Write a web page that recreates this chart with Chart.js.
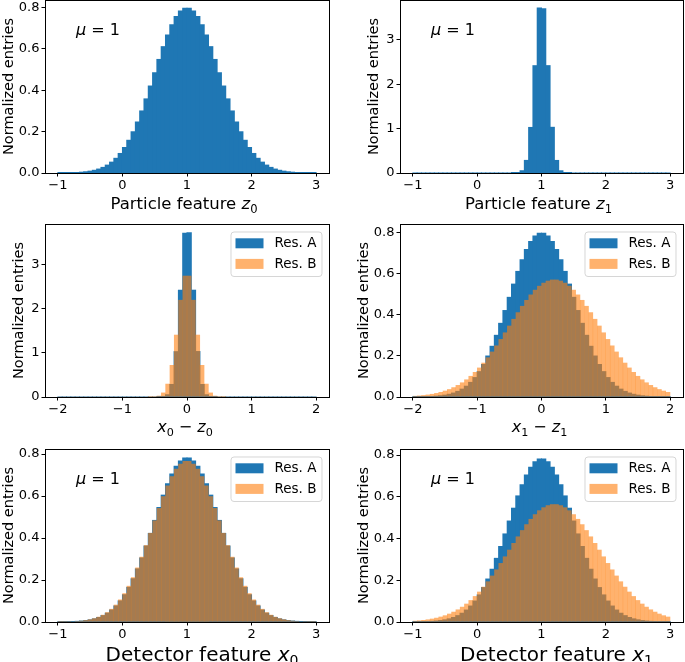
<!DOCTYPE html>
<html>
<head>
<meta charset="utf-8">
<script src="https://cdn.jsdelivr.net/npm/chart.js@4.4.1/dist/chart.umd.min.js"></script>
<style>
  html, body { margin: 0; padding: 0; background: #fff; }
  #fig { position: relative; width: 685px; height: 662px; overflow: hidden; }
  #fig canvas { position: absolute; }
</style>
</head>
<body>
<div id="fig">
  <canvas id="pz0" width="342" height="220" style="left:0px;top:0px"></canvas>
  <canvas id="pz1" width="343" height="220" style="left:342px;top:0px"></canvas>
  <canvas id="pdx0" width="342" height="225" style="left:0px;top:220px"></canvas>
  <canvas id="pdx1" width="343" height="225" style="left:342px;top:220px"></canvas>
  <canvas id="px0" width="342" height="217" style="left:0px;top:445px"></canvas>
  <canvas id="px1" width="343" height="217" style="left:342px;top:445px"></canvas>
</div>
<script>
// 60 bins of width 1/15 over each range
const nBins = 60;
const featureRange = [-1, 3];
const residualRange = [-2, 2];

const featureTicks = [-1, 0, 1, 2, 3];
const residualTicks = [-2, -1, 0, 1, 2];
const densityTicks = [0, 0.2, 0.4, 0.6, 0.8];
const peakTicks = [0, 1, 2, 3];

const seriesLabels = ['Res. A', 'Res. B'];

// Particle feature z0
const z0Entries = [
  0.0004, 0.0006, 0.001, 0.0016, 0.0025, 0.0039, 0.0059, 0.0089, 0.0131, 0.019,
  0.0271, 0.0381, 0.0524, 0.0709, 0.0943, 0.1231, 0.1579, 0.199, 0.2462, 0.2995,
  0.3577, 0.4198, 0.4839, 0.5481, 0.6098, 0.6665, 0.7156, 0.7548, 0.7821, 0.7955,
  0.7951, 0.7821, 0.7548, 0.7156, 0.6665, 0.6098, 0.5481, 0.4839, 0.4198, 0.3577,
  0.2995, 0.2462, 0.199, 0.1579, 0.1231, 0.0943, 0.0709, 0.0524, 0.0381, 0.0271,
  0.019, 0.0131, 0.0089, 0.0059, 0.0039, 0.0025, 0.0016, 0.001, 0.0006, 0.0004
];
// Particle feature z1
const z1Entries = [
  0, 0, 0, 0, 0, 0, 0, 0, 0, 0, 0, 0, 0, 0, 0, 0, 0, 0, 0, 0, 0, 0, 0,
  0.0005, 0.006, 0.051, 0.284, 1.027, 2.419, 3.72, 3.70, 2.42, 1.03, 0.283, 0.05, 0.006, 0.0005,
  0, 0, 0, 0, 0, 0, 0, 0, 0, 0, 0, 0, 0, 0, 0, 0, 0, 0, 0, 0, 0, 0, 0
];
// x0 - z0
const dx0ResA = [
  0, 0, 0, 0, 0, 0, 0, 0, 0, 0, 0, 0, 0, 0, 0, 0, 0, 0, 0, 0, 0, 0, 0,
  0.0005, 0.006, 0.051, 0.284, 1.027, 2.419, 3.71, 3.72, 2.42, 1.03, 0.283, 0.05, 0.006, 0.0005,
  0, 0, 0, 0, 0, 0, 0, 0, 0, 0, 0, 0, 0, 0, 0, 0, 0, 0, 0, 0, 0, 0, 0
];
const dx0ResB = [
  0, 0, 0, 0, 0, 0, 0, 0, 0, 0, 0, 0, 0, 0, 0, 0, 0, 0, 0, 0, 0,
  0.0009, 0.0054, 0.026, 0.097, 0.297, 0.722, 1.408, 2.198, 2.745,
  2.745, 2.198, 1.408, 0.722, 0.297, 0.097, 0.026, 0.0054, 0.0009,
  0, 0, 0, 0, 0, 0, 0, 0, 0, 0, 0, 0, 0, 0, 0, 0, 0, 0, 0, 0, 0
];
// x1 - z1
const dx1ResA = [
  0.0004, 0.0006, 0.001, 0.0016, 0.0025, 0.0039, 0.0059, 0.0089, 0.0131, 0.019,
  0.0271, 0.0381, 0.0524, 0.0709, 0.0943, 0.1231, 0.1579, 0.199, 0.2462, 0.2995,
  0.3577, 0.4198, 0.4839, 0.5481, 0.6098, 0.6665, 0.7156, 0.7548, 0.7821, 0.7951,
  0.7955, 0.7821, 0.7548, 0.7156, 0.6665, 0.6098, 0.5481, 0.4839, 0.4198, 0.3577,
  0.2995, 0.2462, 0.199, 0.1579, 0.1231, 0.0943, 0.0709, 0.0524, 0.0381, 0.0271,
  0.019, 0.0131, 0.0089, 0.0059, 0.0039, 0.0025, 0.0016, 0.001, 0.0006, 0.0004
];
const dx1ResB = [
  0.0047, 0.0063, 0.0084, 0.011, 0.0143, 0.0185, 0.0236, 0.0299, 0.0374, 0.0466,
  0.0574, 0.0701, 0.0847, 0.1016, 0.1207, 0.1421, 0.1658, 0.1917, 0.2197, 0.2494,
  0.2806, 0.3128, 0.3457, 0.3785, 0.4107, 0.4416, 0.4705, 0.4968, 0.5199, 0.5391,
  0.554, 0.5641, 0.5693, 0.5693, 0.5641, 0.554, 0.5391, 0.5199, 0.4968, 0.4705,
  0.4416, 0.4107, 0.3785, 0.3457, 0.3128, 0.2806, 0.2494, 0.2197, 0.1917, 0.1658,
  0.1421, 0.1207, 0.1016, 0.0847, 0.0701, 0.0574, 0.0466, 0.0374, 0.0299, 0.0236
];
// Detector feature x0
const x0ResA = [
  0.0005, 0.0008, 0.0012, 0.0019, 0.003, 0.0046, 0.007, 0.0103, 0.0151, 0.0216,
  0.0304, 0.042, 0.0572, 0.0764, 0.1004, 0.1298, 0.1649, 0.2059, 0.2528, 0.305,
  0.3618, 0.422, 0.4838, 0.5453, 0.6042, 0.658, 0.7046, 0.7416, 0.7674, 0.7806,
  0.7806, 0.7674, 0.7416, 0.7046, 0.658, 0.6042, 0.5453, 0.4838, 0.422, 0.3618,
  0.305, 0.2528, 0.2059, 0.1649, 0.1298, 0.1004, 0.0764, 0.0572, 0.042, 0.0304,
  0.0216, 0.0151, 0.0103, 0.007, 0.0046, 0.003, 0.0019, 0.0012, 0.0008, 0.0005
];
const x0ResB = [
  0.0006, 0.001, 0.0015, 0.0024, 0.0037, 0.0055, 0.0082, 0.012, 0.0172, 0.0243,
  0.0337, 0.0461, 0.0619, 0.0819, 0.1065, 0.1363, 0.1716, 0.2124, 0.2588, 0.31,
  0.3654, 0.4237, 0.4832, 0.5421, 0.5983, 0.6496, 0.6937, 0.7288, 0.7531, 0.7656,
  0.7656, 0.7531, 0.7288, 0.6937, 0.6496, 0.5983, 0.5421, 0.4832, 0.4237, 0.3654,
  0.31, 0.2588, 0.2124, 0.1716, 0.1363, 0.1065, 0.0819, 0.0619, 0.0461, 0.0337,
  0.0243, 0.0172, 0.012, 0.0082, 0.0055, 0.0037, 0.0024, 0.0015, 0.001, 0.0006
];
// Detector feature x1
const x1ResA = [
  0.0005, 0.0008, 0.0012, 0.0019, 0.003, 0.0046, 0.007, 0.0103, 0.0151, 0.0216,
  0.0304, 0.042, 0.0572, 0.0764, 0.1004, 0.1298, 0.1649, 0.2059, 0.2528, 0.305,
  0.3618, 0.422, 0.4838, 0.5453, 0.6042, 0.658, 0.7046, 0.7416, 0.7674, 0.7806,
  0.7806, 0.7674, 0.7416, 0.7046, 0.658, 0.6042, 0.5453, 0.4838, 0.422, 0.3618,
  0.305, 0.2528, 0.2059, 0.1649, 0.1298, 0.1004, 0.0764, 0.0572, 0.042, 0.0304,
  0.0216, 0.0151, 0.0103, 0.007, 0.0046, 0.003, 0.0019, 0.0012, 0.0008, 0.0005
];
const x1ResB = [
  0.0052, 0.0069, 0.009, 0.0118, 0.0153, 0.0196, 0.0249, 0.0313, 0.0392, 0.0485,
  0.0595, 0.0723, 0.0871, 0.1041, 0.1233, 0.1447, 0.1683, 0.194, 0.2216, 0.251,
  0.2818, 0.3135, 0.3457, 0.3778, 0.4093, 0.4394, 0.4677, 0.4933, 0.5157, 0.5344,
  0.5489, 0.5587, 0.5637, 0.5637, 0.5587, 0.5489, 0.5344, 0.5157, 0.4933, 0.4677,
  0.4394, 0.4093, 0.3778, 0.3457, 0.3135, 0.2818, 0.251, 0.2216, 0.194, 0.1683,
  0.1447, 0.1233, 0.1041, 0.0871, 0.0723, 0.0595, 0.0485, 0.0392, 0.0313, 0.0249
];

const blue = '#1f77b4';
const orange = 'rgba(255, 127, 14, 0.6)';
const FONT = '"DejaVu Sans"';

Chart.defaults.font.family = FONT;
Chart.defaults.color = '#000';

function binCenters(range) {
  let w = (range[1] - range[0]) / nBins;
  let out = [];
  for (let i = 0; i < nBins; i++) out.push(range[0] + (i + 0.5) * w);
  return out;
}

function fmtTick(v, decimals) {
  let s = decimals ? v.toFixed(decimals) : String(Math.round(v));
  return s.replace('-', '\u2212');
}

// draws a label made of plain / italic / subscript pieces
function drawParts(ctx, parts, size, x, baseline, align) {
  let widths = [];
  let fonts = parts.map(function(p) {
    let s = p.sub ? size * 0.7 : size;
    return (p.it ? 'italic ' : '') + s + 'px ' + FONT;
  });
  parts.forEach(function(p, i) {
    ctx.font = fonts[i];
    widths.push(ctx.measureText(p.t).width);
  });
  let total = widths.reduce((a, b) => a + b, 0);
  let cx = align === 'center' ? x - total / 2 : x;
  ctx.textAlign = 'left';
  ctx.textBaseline = 'alphabetic';
  parts.forEach(function(p, i) {
    ctx.font = fonts[i];
    ctx.fillText(p.t, cx, baseline + (p.sub ? size * 0.22 : 0));
    cx += widths[i];
  });
}

function align(px) {
  return Math.round(px - 0.5) + 0.5;
}

const panelText = {
  id: 'panelText',
  afterDraw: function(chart, args, opts) {
    const ctx = chart.ctx;
    const a = chart.chartArea;
    ctx.save();
    // axes frame
    ctx.strokeStyle = '#000';
    ctx.lineWidth = 1;
    let l = align(a.left), r = align(a.right), t = align(a.top), b = align(a.bottom);
    ctx.strokeRect(l, t, r - l, b - t);
    ctx.fillStyle = '#000';

    // x label
    drawParts(ctx, opts.xLabel, opts.xSize, (a.left + a.right) / 2 + (opts.xShift || 0), a.bottom + opts.xDrop, 'center');

    // y label
    ctx.save();
    ctx.translate(a.left - opts.yGap, (a.top + a.bottom) / 2);
    ctx.rotate(-Math.PI / 2);
    ctx.font = '14.5px ' + FONT;
    ctx.textAlign = 'center';
    ctx.textBaseline = 'alphabetic';
    ctx.fillText('Normalized entries', 0, 0);
    ctx.restore();

    // mu = 1 annotation
    if (opts.mu) {
      drawParts(ctx, [{t: '\u03bc', it: true}, {t: ' = '}, {t: '1'}], 16, a.left + 31, a.top + 35, 'left');
    }

    // legend
    if (opts.legend) {
      let w = 91, h = 44.5;
      let bx = a.right - 7.5 - w, by = a.top + 7.5;
      ctx.beginPath();
      ctx.roundRect(bx + 0.5, by + 0.5, w, h, 3);
      ctx.fillStyle = 'rgba(255,255,255,0.8)';
      ctx.fill();
      ctx.strokeStyle = 'rgba(204,204,204,0.8)';
      ctx.lineWidth = 1;
      ctx.stroke();
      chart.data.datasets.forEach(function(ds, i) {
        let cy = by + 11.8 + i * 20.6;
        ctx.fillStyle = ds.backgroundColor;
        ctx.fillRect(bx + 5, cy - 5, 28, 10);
        ctx.fillStyle = '#000';
        ctx.font = '13.5px ' + FONT;
        ctx.textAlign = 'left';
        ctx.textBaseline = 'middle';
        ctx.fillText(ds.label, bx + 44, cy + 0.5);
      });
    }
    ctx.restore();
  }
};

function histPanel(canvasId, cfg) {
  let centers = binCenters(cfg.range);
  let datasets = cfg.series.map(function(s, i) {
    return {
      label: s.label,
      data: s.values.map(function(v, j) { return {x: centers[j], y: v}; }),
      backgroundColor: s.color,
      borderWidth: 0,
      barPercentage: 1.0,
      categoryPercentage: 1.0,
      inflateAmount: i === 0 ? 0.5 : 0.15,
      grouped: false,
      order: cfg.series.length - i
    };
  });

  let ctx = document.getElementById(canvasId).getContext('2d');
  new Chart(ctx, {
    type: 'bar',
    data: { datasets: datasets },
    options: {
      responsive: false,
      animation: false,
      events: [],
      layout: { padding: { top: cfg.padTop, right: cfg.padRight, left: 0, bottom: 0 } },
      plugins: {
        legend: { display: false },
        tooltip: { enabled: false },
        panelText: {
          xLabel: cfg.xLabel, xSize: cfg.xSize, xDrop: cfg.xDrop, xShift: cfg.xShift,
          yGap: cfg.yGap, mu: cfg.mu, legend: cfg.series.length > 1
        }
      },
      scales: {
        x: {
          type: 'linear',
          min: cfg.range[0] - 0.2,
          max: cfg.range[1] + 0.2,
          offset: false,
          afterBuildTicks: function(scale) {
            scale.ticks = cfg.xTicks.map(function(v) { return {value: v}; });
          },
          afterFit: function(scale) {
            scale.height = cfg.xAxisHeight;
            scale.paddingLeft = 0;
            scale.paddingRight = 0;
          },
          ticks: {
            font: { size: 13 },
            color: '#000',
            padding: 1,
            maxRotation: 0,
            autoSkip: false,
            callback: function(value) { return fmtTick(value, 0); }
          },
          grid: { display: true, drawOnChartArea: false, drawTicks: true, tickLength: 3.5, tickWidth: 1, tickColor: '#000', offset: false },
          border: { display: true, color: '#000', width: 1 }
        },
        y: {
          min: 0,
          max: cfg.yMax,
          afterBuildTicks: function(scale) {
            scale.ticks = cfg.yTicks.map(function(v) { return {value: v}; });
          },
          afterFit: function(scale) {
            scale.width = cfg.yAxisWidth;
            scale.paddingTop = 0;
            scale.paddingBottom = 0;
          },
          ticks: {
            font: { size: 13 },
            color: '#000',
            padding: 2,
            autoSkip: false,
            callback: function(value) { return fmtTick(value, cfg.yDecimals); }
          },
          grid: { display: true, drawOnChartArea: false, drawTicks: true, tickLength: 3.5, tickWidth: 1, tickColor: '#000' },
          border: { display: true, color: '#000', width: 1 }
        }
      }
    },
    plugins: [panelText]
  });
}

const leftCol = { yAxisWidth: 45, padRight: 13 };
const rightCol = { yAxisWidth: 58, padRight: 2 };

histPanel('pz0', Object.assign({}, leftCol, {
  range: featureRange, xTicks: featureTicks, yTicks: densityTicks, yDecimals: 1, yMax: 0.835,
  padTop: 0, xAxisHeight: 47, xDrop: 36, xSize: 16.5, xShift: -3, yGap: 31.7, mu: true,
  xLabel: [{t: 'Particle feature '}, {t: 'z', it: true}, {t: '0', sub: true}],
  series: [{label: 'z0', values: z0Entries, color: blue}]
}));

histPanel('pz1', Object.assign({}, rightCol, {
  range: featureRange, xTicks: featureTicks, yTicks: peakTicks, yDecimals: 0, yMax: 3.9,
  padTop: 0, xAxisHeight: 47, xDrop: 36, xSize: 16.5, xShift: -3, yGap: 21.7, mu: true,
  xLabel: [{t: 'Particle feature '}, {t: 'z', it: true}, {t: '1', sub: true}],
  series: [{label: 'z1', values: z1Entries, color: blue}]
}));

histPanel('pdx0', Object.assign({}, leftCol, {
  range: residualRange, xTicks: residualTicks, yTicks: peakTicks, yDecimals: 0, yMax: 3.92,
  padTop: 4, xAxisHeight: 48, xDrop: 35, xSize: 16, xShift: -2, yGap: 21.7, mu: false,
  xLabel: [{t: 'x', it: true}, {t: '0', sub: true}, {t: ' \u2212 '}, {t: 'z', it: true}, {t: '0', sub: true}],
  series: [
    {label: seriesLabels[0], values: dx0ResA, color: blue},
    {label: seriesLabels[1], values: dx0ResB, color: orange}
  ]
}));

histPanel('pdx1', Object.assign({}, rightCol, {
  range: residualRange, xTicks: residualTicks, yTicks: densityTicks, yDecimals: 1, yMax: 0.84,
  padTop: 4, xAxisHeight: 48, xDrop: 35, xSize: 16, xShift: -2, yGap: 31.7, mu: false,
  xLabel: [{t: 'x', it: true}, {t: '1', sub: true}, {t: ' \u2212 '}, {t: 'z', it: true}, {t: '1', sub: true}],
  series: [
    {label: seriesLabels[0], values: dx1ResA, color: blue},
    {label: seriesLabels[1], values: dx1ResB, color: orange}
  ]
}));

histPanel('px0', Object.assign({}, leftCol, {
  range: featureRange, xTicks: featureTicks, yTicks: densityTicks, yDecimals: 1, yMax: 0.824,
  padTop: 4, xAxisHeight: 40, xDrop: 39, xSize: 20, xShift: 15, yGap: 31.7, mu: true,
  xLabel: [{t: 'Detector feature '}, {t: 'x', it: true}, {t: '0', sub: true}],
  series: [
    {label: seriesLabels[0], values: x0ResA, color: blue},
    {label: seriesLabels[1], values: x0ResB, color: orange}
  ]
}));

histPanel('px1', Object.assign({}, rightCol, {
  range: featureRange, xTicks: featureTicks, yTicks: densityTicks, yDecimals: 1, yMax: 0.829,
  padTop: 4, xAxisHeight: 40, xDrop: 39, xSize: 20, xShift: 15, yGap: 31.7, mu: true,
  xLabel: [{t: 'Detector feature '}, {t: 'x', it: true}, {t: '1', sub: true}],
  series: [
    {label: seriesLabels[0], values: x1ResA, color: blue},
    {label: seriesLabels[1], values: x1ResB, color: orange}
  ]
}));
</script>
</body>
</html>
